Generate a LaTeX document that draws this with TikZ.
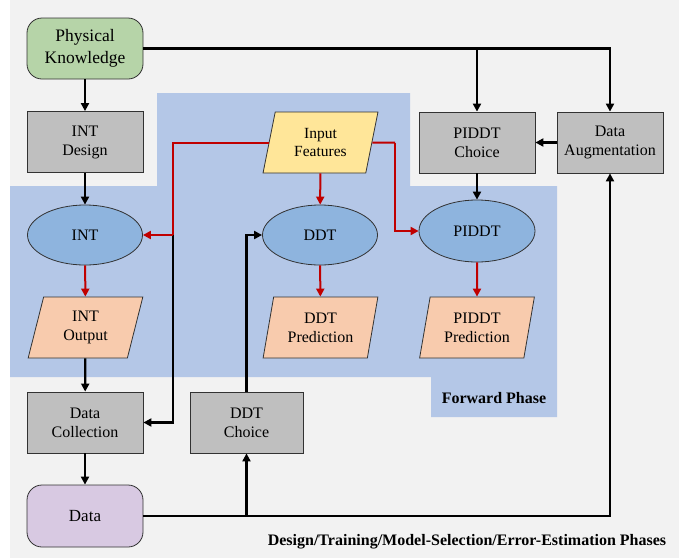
\documentclass[tikz,border=0pt]{standalone}
\usepackage{fontspec}
\setmainfont{Liberation Serif}
\usetikzlibrary{shapes.geometric,arrows.meta}
\definecolor{bggray}{RGB}{242,242,242}
\definecolor{fwdblue}{RGB}{180,199,231}
\definecolor{ellblue}{RGB}{142,180,222}
\definecolor{boxgray}{RGB}{191,191,191}
\definecolor{peach}{RGB}{248,203,173}
\definecolor{yel}{RGB}{255,230,153}
\definecolor{grn}{RGB}{182,212,168}
\definecolor{purp}{RGB}{216,201,226}
\definecolor{darkred}{RGB}{192,0,0}
\definecolor{edge}{RGB}{50,50,50}
\tikzset{
  base/.style={draw=edge, line width=0.8pt, align=center, inner sep=0pt, font=\fontsize{16}{19}\selectfont},
  gbox/.style={base, rectangle, fill=boxgray, minimum width=116pt, minimum height=61pt},
  rbox/.style={base, rectangle, rounded corners=15pt, minimum width=116pt, minimum height=61pt},
  ell/.style={base, ellipse, fill=ellblue, minimum width=115pt, minimum height=60pt},
  para/.style={base, trapezium, trapezium left angle=76, trapezium right angle=104, trapezium stretches=true, minimum width=115pt, minimum height=61pt},
  arr/.style={line width=2.2pt, black, -{Triangle[length=8pt,width=8pt]}},
  ln/.style={line width=2.2pt, black},
  rarr/.style={line width=2pt, darkred, -{Triangle[length=8pt,width=8pt]}},
  rln/.style={line width=2pt, darkred},
  phase/.style={font=\fontsize{16}{18}\selectfont\bfseries, inner sep=0pt}
}
\begin{document}
\begin{tikzpicture}[x=1pt,y=-1pt]
\useasboundingbox (0,0) rectangle (694,558);
\fill[bggray] (10,0) rectangle (679,558);
\fill[fwdblue] (157,93) -- (410,93) -- (410,186) -- (557,186) -- (557,417) -- (431,417) -- (431,377) -- (10,377) -- (10,186) -- (157,186) -- cycle;

\node[rbox, fill=grn, font=\fontsize{17.5}{22}\selectfont] (pk) at (85,48.5) {Physical\\Knowledge};
\node[gbox] (intd) at (85,142) {INT\\Design};
\node[ell] (int) at (85,235) {INT};
\node[para, fill=peach] (into) at (85.5,327.5) {INT\\Output};
\node[gbox] (dc) at (85,422.5) {Data\\Collection};
\node[rbox, fill=purp, minimum height=62pt, font=\fontsize{17}{20}\selectfont] (data) at (85,516) {Data};
\node[gbox, minimum width=113pt] (ddtc) at (246.5,422.5) {DDT\\Choice};
\node[para, fill=yel, font=\fontsize{15.5}{18}\selectfont] (if) at (320.5,142.5) {Input\\Features};
\node[ell] (ddt) at (320,235) {DDT};
\node[para, fill=peach] (ddtp) at (320.5,327.5) {DDT\\Prediction};
\node[gbox] (pc) at (477,142.5) {PIDDT\\Choice};
\node[gbox, minimum width=106pt] (da) at (610,142.5) {Data\\Augmentation};
\node[ell, minimum width=116pt, minimum height=62pt] (piddt) at (477,231) {PIDDT};
\node[para, fill=peach] (piddtp) at (477,327.5) {PIDDT\\Prediction};

\node[phase] (fp) at (494,398) {Forward Phase};
\node[phase] (dp) at (467,542) {Design/Training/Model-Selection/Error-Estimation Phases};

\coordinate (j1) at (173,235);
\coordinate (j2) at (395,142.5);

% black connectors
\draw[arr] (pk) -- (intd);
\draw[arr] (intd) -- (int);
\draw[arr] (into) -- (dc);
\draw[arr] (dc) -- (data);
\draw[arr] (pk.east) -| (da.north);
\draw[arr] (pk.east -| pc.north) -- (pc.north);
\draw[arr] (da) -- (pc);
\draw[arr] (pc) -- (piddt);
\draw[arr] (j1) |- (dc.east);
\draw[arr] (ddtc.north) |- (ddt.west);
\draw[arr] (data.east) -| (da.south);
\draw[arr] (data.east -| ddtc.south) -- (ddtc.south);

% red connectors
\draw[rln] (if.west) -| (j1);
\draw[rarr] (j1) -- (int.east);
\draw[rarr] (int) -- (into);
\draw[rarr] (if) -- (ddt);
\draw[rarr] (ddt) -- (ddtp);
\draw[rarr] (piddt) -- (piddtp);
\draw[rln] (if.east) -- (j2);
\draw[rarr] (j2) |- (piddt.west);
\end{tikzpicture}
\end{document}
